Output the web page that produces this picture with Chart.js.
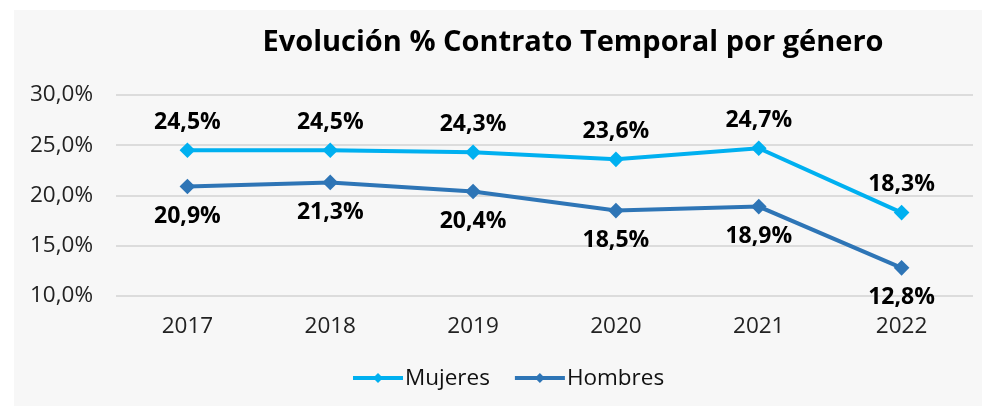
<!DOCTYPE html>
<html>
<head>
<meta charset="utf-8">
<script src="https://cdn.jsdelivr.net/npm/chart.js@4.4.1/dist/chart.umd.min.js"></script>
<style>
  html, body { margin: 0; padding: 0; background: #ffffff; }
  #wrap { position: relative; width: 982px; height: 406px; }
</style>
</head>
<body>
<div id="wrap"><canvas id="chart" width="982" height="406"></canvas></div>
<script>
// data
const years = ["2017", "2018", "2019", "2020", "2021", "2022"];
const mujeres = [24.5, 24.5, 24.3, 23.6, 24.7, 18.3];
const hombres = [20.9, 21.3, 20.4, 18.5, 18.9, 12.8];
const yTicks = [10, 15, 20, 25, 30];

const FONT = "'Open Sans', 'Noto Sans', sans-serif";
const fmt = v => v.toFixed(1).replace(".", ",") + "%";

// grey panel, title, point labels and legend
const extras = {
  id: "extras",
  beforeDraw(chart) {
    const ctx = chart.ctx;
    ctx.save();
    ctx.fillStyle = "#f7f7f7";
    ctx.fillRect(14, 10, chart.width - 14, chart.height - 10);
    ctx.restore();
  },
  afterDatasetsDraw(chart) {
    const ctx = chart.ctx;
    ctx.save();
    ctx.fillStyle = "#000";
    ctx.textAlign = "center";
    ctx.textBaseline = "middle";
    ctx.font = "bold 29px " + FONT;
    ctx.fillText("Evolución % Contrato Temporal por género", 573, 43);

    ctx.font = "bold 23px " + FONT;
    chart.data.datasets.forEach((ds, i) => {
      const meta = chart.getDatasetMeta(i);
      meta.data.forEach((pt, j) => {
        const dy = i === 0 ? -28 : 30;
        ctx.fillText(fmt(ds.data[j]), pt.x, pt.y + dy);
      });
    });

    // legend: line with diamond, then label
    ctx.font = "22.5px " + FONT;
    ctx.textAlign = "left";
    let x = 353;
    const y = 378;
    chart.data.datasets.forEach(ds => {
      ctx.strokeStyle = ds.borderColor;
      ctx.lineWidth = 4;
      ctx.beginPath();
      ctx.moveTo(x, y);
      ctx.lineTo(x + 50, y);
      ctx.stroke();
      ctx.fillStyle = ds.borderColor;
      ctx.beginPath();
      ctx.moveTo(x + 25, y - 5);
      ctx.lineTo(x + 30, y);
      ctx.lineTo(x + 25, y + 5);
      ctx.lineTo(x + 20, y);
      ctx.closePath();
      ctx.fill();
      ctx.fillStyle = "#111";
      ctx.fillText(ds.label, x + 52, y + 1);
      x += 52 + ctx.measureText(ds.label).width + 25;
    });
    ctx.restore();
  }
};

new Chart(document.getElementById("chart"), {
  type: "line",
  data: {
    labels: years,
    datasets: [
      {
        label: "Mujeres",
        data: mujeres,
        borderColor: "#00b0f0",
        backgroundColor: "#00b0f0",
        borderWidth: 4,
        pointStyle: "rectRot",
        pointRadius: 5,
        pointHoverRadius: 5,
        tension: 0
      },
      {
        label: "Hombres",
        data: hombres,
        borderColor: "#2e75b6",
        backgroundColor: "#2e75b6",
        borderWidth: 4,
        pointStyle: "rectRot",
        pointRadius: 5,
        pointHoverRadius: 5,
        tension: 0
      }
    ]
  },
  options: {
    responsive: false,
    animation: false,
    events: [],
    layout: { padding: { top: 95, right: 7, left: 0, bottom: 0 } },
    plugins: {
      legend: { display: false },
      title: { display: false },
      tooltip: { enabled: false }
    },
    scales: {
      x: {
        offset: true,
        grid: { display: false, drawTicks: false },
        border: { display: false },
        ticks: { color: "#222", font: { family: FONT, size: 22.5 }, padding: 17 },
        afterFit(scale) { scale.height = 110; }
      },
      y: {
        min: 10,
        max: 30,
        afterBuildTicks(scale) { scale.ticks = yTicks.map(v => ({ value: v })); },
        grid: { color: "#dcdcdc", lineWidth: 2, drawTicks: false },
        border: { display: false },
        ticks: {
          color: "#222",
          font: { family: FONT, size: 22.5 },
          padding: 23,
          callback: v => v.toFixed(1).replace(".", ",") + "%"
        },
        afterFit(scale) { scale.width = 116; }
      }
    }
  },
  plugins: [extras]
});
</script>
</body>
</html>
